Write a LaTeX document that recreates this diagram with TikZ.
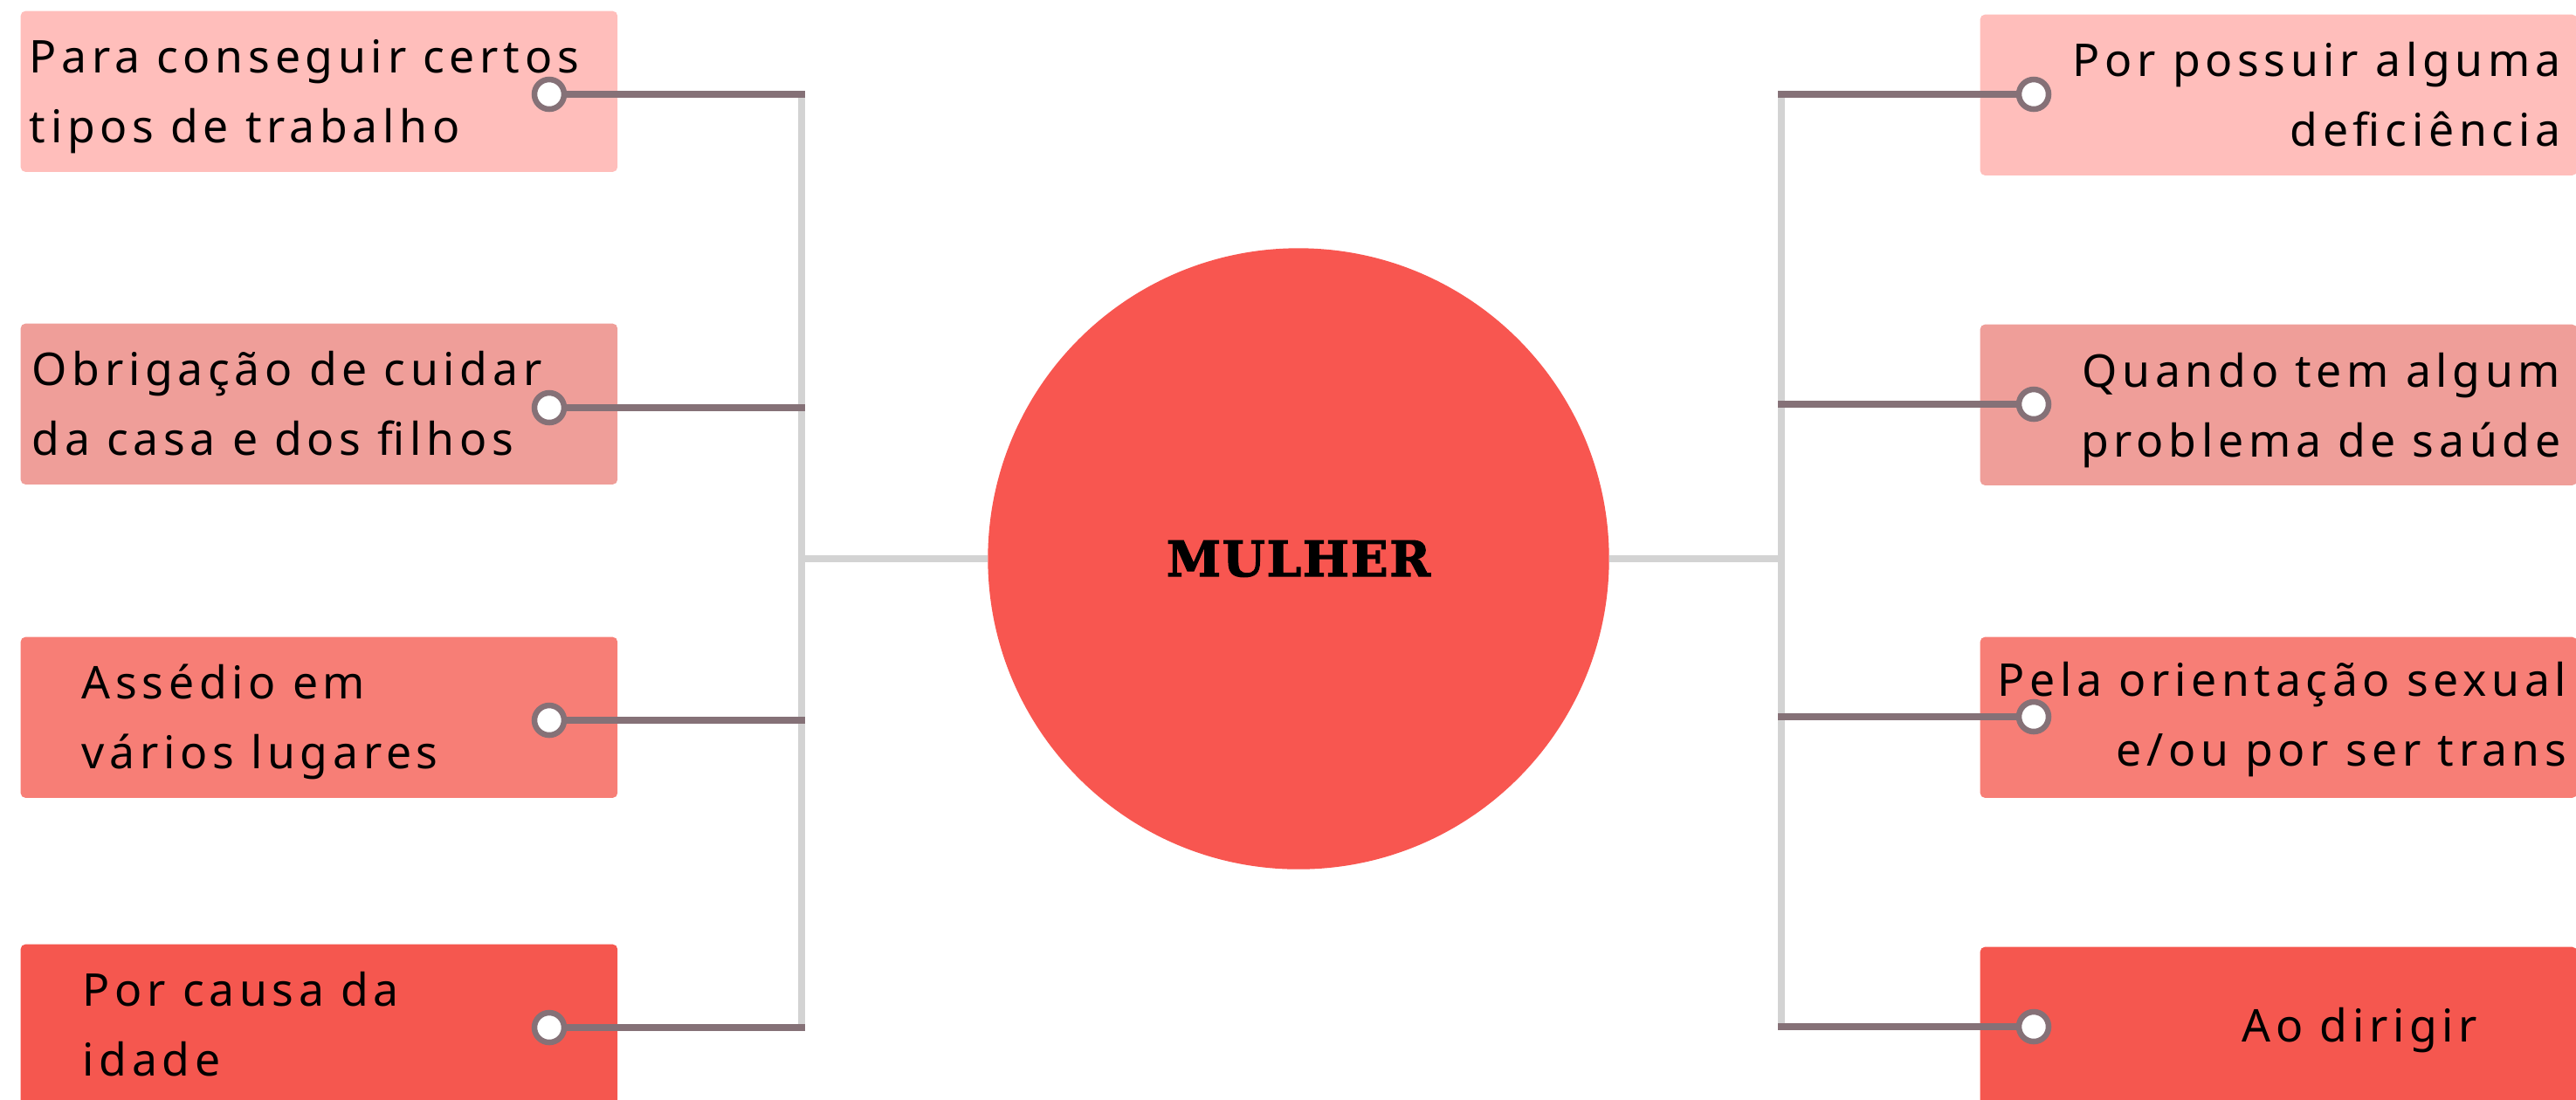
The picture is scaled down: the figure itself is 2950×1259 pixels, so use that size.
\documentclass[tikz,border=0pt]{standalone}
\usepackage{fontspec}
\setmainfont{Noto Sans}[LetterSpace=11]
\newfontfamily\titlefont{DejaVu Serif}[LetterSpace=3, BoldFeatures={FakeBold=2}]
\definecolor{boxA}{HTML}{FFBEBB}
\definecolor{boxB}{HTML}{EF9E99}
\definecolor{boxC}{HTML}{F77E76}
\definecolor{boxD}{HTML}{F5574F}
\definecolor{core}{HTML}{F85650}
\definecolor{connC}{HTML}{857177}
\definecolor{spineC}{HTML}{D3D3D3}
\newcommand\tstrut{\rule{0pt}{20pt}}
\begin{document}
\begin{tikzpicture}[x=0.01cm,y=-0.01cm,
  card/.style={rectangle, rounded corners=1.5pt, inner sep=0, minimum width=6.83cm, minimum height=1.84cm, anchor=north west},
  dot/.style={circle, draw=connC, fill=white, line width=0.065cm, minimum size=0.34cm, inner sep=0},
  conn/.style={draw=connC, line width=0.072cm},
  spine/.style={draw=spineC, line width=0.075cm},
  ltext/.style={inner sep=0, align=left, anchor=north west, font=\fontsize{14.7pt}{22.76pt}\selectfont},
  rtext/.style={inner sep=0, align=right, anchor=north east, font=\fontsize{14.7pt}{22.76pt}\selectfont}]
\useasboundingbox[fill=white] (0,0) rectangle (2950,1259);

% cards
\node[card, fill=boxA] (l1) at (23,12) {};
\node[card, fill=boxB] (l2) at (23,370) {};
\node[card, fill=boxC] (l3) at (23,729) {};
\node[card, fill=boxD] (l4) at (23,1081) {};
\node[card, fill=boxA] (r1) at (2267,16) {};
\node[card, fill=boxB] (r2) at (2267,371) {};
\node[card, fill=boxC] (r3) at (2267,729) {};
\node[card, fill=boxD] (r4) at (2267,1084) {};

% spine coordinates
\coordinate (sLt) at (918,108);
\coordinate (sLb) at (918,1177);
\coordinate (sLm) at (918,640);
\coordinate (sRt) at (2040,108);
\coordinate (sRb) at (2040,1180);
\coordinate (sRm) at (2040,640);
\coordinate (tl1) at (922,108);
\coordinate (tl2) at (922,467);
\coordinate (tl3) at (922,825);
\coordinate (tl4) at (922,1177);
\coordinate (tr1) at (2036,108);
\coordinate (tr2) at (2036,463);
\coordinate (tr3) at (2036,821);
\coordinate (tr4) at (2036,1176);

% central node
\node[circle, fill=core, minimum size=7.11cm, inner sep=0] (c) at (1487,640)
  {\titlefont\fontsize{16pt}{18pt}\selectfont\bfseries MULHER};

\draw[spine] (sLt) -- (sLb);
\draw[spine] (sRt) -- (sRb);
\draw[spine] (sLm) -- (c.west);
\draw[spine] (c.east) -- (sRm);

% dots
\node[dot] (dl1) at (629,108) {};
\node[dot] (dl2) at (629,467) {};
\node[dot] (dl3) at (629,825) {};
\node[dot] (dl4) at (629,1177) {};
\node[dot] (dr1) at (2329,108) {};
\node[dot] (dr2) at (2329,463) {};
\node[dot] (dr3) at (2329,821) {};
\node[dot] (dr4) at (2329,1176) {};

\draw[conn] (dl1.east) -- (tl1);
\draw[conn] (dl2.east) -- (tl2);
\draw[conn] (dl3.east) -- (tl3);
\draw[conn] (dl4.east) -- (tl4);
\draw[conn] (tr1) -- (dr1.west);
\draw[conn] (tr2) -- (dr2.west);
\draw[conn] (tr3) -- (dr3.west);
\draw[conn] (tr4) -- (dr4.west);

% texts
\node[ltext] (xl1) at ([yshift=20pt]33,83) {\tstrut Para conseguir certos\\tipos de trabalho};
\node[ltext] (xl2) at ([yshift=20pt]36,441) {\tstrut Obrigação de cuidar\\da casa e dos filhos};
\node[ltext] (xl3) at ([yshift=20pt]93,800) {\tstrut Assédio em\\vários lugares};
\node[ltext] (xl4) at ([yshift=20pt]94,1152) {\tstrut Por causa da\\idade};
\node[rtext] (xr1) at ([yshift=20pt]2933,87) {\tstrut Por possuir alguma\\deficiência};
\node[rtext] (xr2) at ([yshift=20pt]2933,443) {\tstrut Quando tem algum\\problema de saúde};
\node[rtext] (xr3) at ([yshift=20pt]2940,797) {\tstrut Pela orientação sexual\\e/ou por ser trans};
\node[ltext] (xr4) at ([yshift=20pt]2567,1193) {\tstrut Ao dirigir};
\end{tikzpicture}
\end{document}
